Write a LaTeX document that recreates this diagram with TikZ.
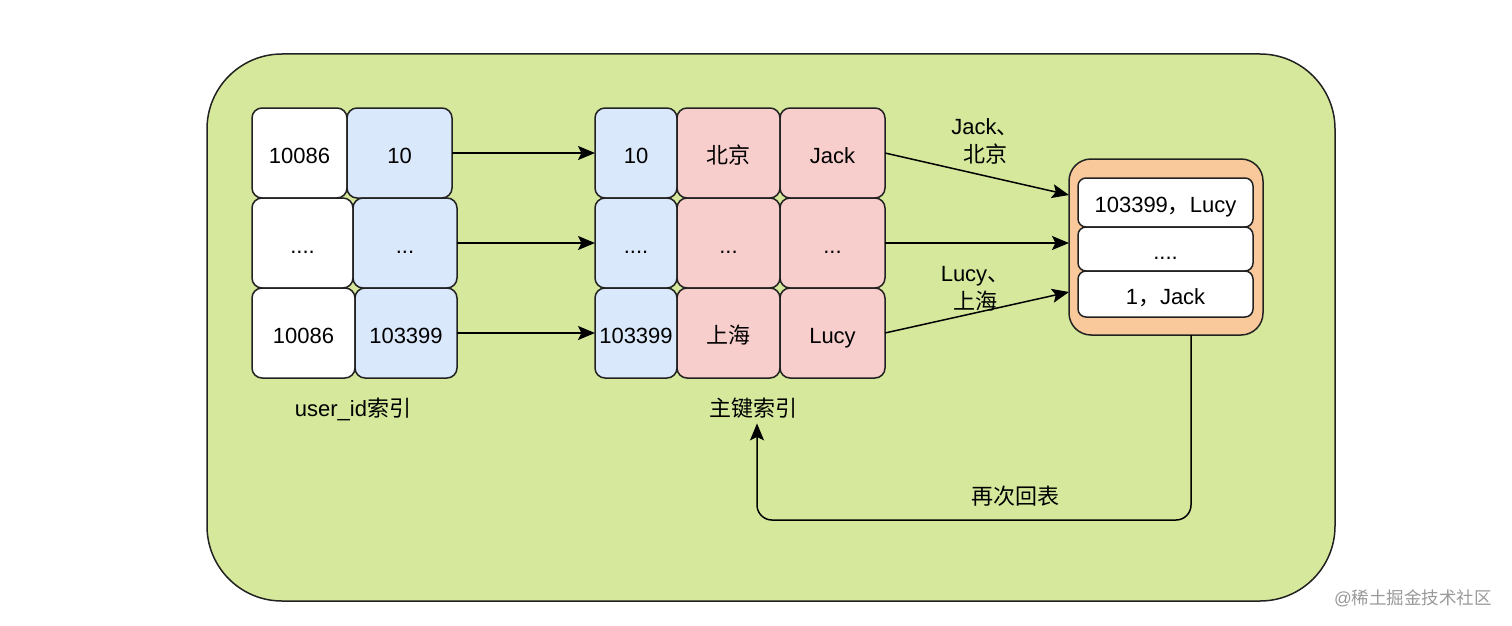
\documentclass[tikz,border=0pt]{standalone}
\usepackage{fontspec}
\setmainfont{Liberation Sans}
\newfontfamily\cjk{Noto Sans CJK SC}
\usetikzlibrary{arrows.meta,calc}
\definecolor{bggreen}{HTML}{D5E89C}
\definecolor{cellblue}{HTML}{DAE8FC}
\definecolor{cellpink}{HTML}{F8CECC}
\definecolor{cellorange}{HTML}{F9C99B}
\definecolor{edge}{HTML}{222222}
\begin{document}
\begin{tikzpicture}[x=1pt,y=-1pt,
  font=\fontsize{22}{28}\selectfont,
  cell/.style={draw=edge,line width=1.5pt,rounded corners=10pt,inner sep=0pt,outer sep=0pt,minimum height=90pt,text height=20pt,text depth=0pt},
  wcell/.style={cell,fill=white},
  bcell/.style={cell,fill=cellblue},
  pcell/.style={cell,fill=cellpink},
  rcell/.style={draw=edge,line width=1.5pt,rounded corners=8pt,fill=white,inner sep=0pt,outer sep=0pt,minimum width=175pt,text height=20pt,text depth=0pt},
  arr/.style={draw=black,line width=1.5pt,-{Stealth[length=17pt,width=14pt,inset=3.5pt]}},
  lbl/.style={inner sep=0pt,align=center}]
\useasboundingbox (0,0) rectangle (1512,626);
% background
\filldraw[fill=bggreen,draw=edge,line width=1.5pt,rounded corners=75pt] (207,54) rectangle (1335,601);
% left table
\node[wcell,minimum width=95pt]  (a1) at (299.5,153) {10086};
\node[bcell,minimum width=105pt] (b1) at (399.5,153) {10};
\node[wcell,minimum width=101pt] (a2) at (302.5,243) {....};
\node[bcell,minimum width=104pt] (b2) at (405,243) {...};
\node[wcell,minimum width=103pt] (a3) at (303.5,333) {10086};
\node[bcell,minimum width=102pt] (b3) at (406,333) {103399};
% middle table
\node[bcell,minimum width=82pt]  (c1) at (636,153) {10};
\node[pcell,minimum width=103pt] (d1) at (728.5,153) {\cjk 北京};
\node[pcell,minimum width=105pt] (e1) at (832.5,153) {Jack};
\node[bcell,minimum width=82pt]  (c2) at (636,243) {....};
\node[pcell,minimum width=103pt] (d2) at (728.5,243) {...};
\node[pcell,minimum width=105pt] (e2) at (832.5,243) {...};
\node[bcell,minimum width=82pt]  (c3) at (636,333) {103399};
\node[pcell,minimum width=103pt] (d3) at (728.5,333) {\cjk 上海};
\node[pcell,minimum width=105pt] (e3) at (832.5,333) {Lucy};
% right box
\node[draw=edge,line width=1.5pt,fill=cellorange,rounded corners=22pt,minimum width=194pt,minimum height=176pt,inner sep=0pt,outer sep=0pt] (ob) at (1166,247) {};
\node[rcell,minimum height=49pt] (r1) at (1165.5,202.5) {103399{\cjk ，}Lucy};
\node[rcell,minimum height=44pt] (r2) at (1165.5,249) {....};
\node[rcell,minimum height=46pt] (r3) at (1165.5,294) {1{\cjk ，}Jack};
% labels
\node[lbl] (lu) at (353,409) {user\_id{\cjk 索引}};
\node[lbl] (lp) at (753,408) {\cjk 主键索引};
\node[lbl] (lj) at (985,141) {Jack{\cjk 、}\\{\cjk 北京}};
\node[lbl] (ll) at (975,289) {Lucy{\cjk 、}\\{\cjk 上海}};
\node[lbl] (lr) at (1015,496) {\cjk 再次回表};
% connectors
\coordinate (t1) at (1069,195);
\coordinate (t2) at (1069,243);
\coordinate (t3) at (1069,292);
\draw[arr] (b1.east) -- (c1.west);
\draw[arr] (b2.east) -- (c2.west);
\draw[arr] (b3.east) -- (c3.west);
\draw[arr] (e1.east) -- (t1);
\draw[arr] (e2.east) -- (t2);
\draw[arr] (e3.east) -- (t3);
\draw[arr,rounded corners=15pt] ($(ob.south)+(25,0)$) -- ++(0,185) -| ($(lp.south)+(4,5)$);
% watermark
\node[lbl,text=black!40,font=\fontsize{17.5}{20}\selectfont] (wm) at (1413,598) {@{\cjk 稀土掘金技术社区}};
\end{tikzpicture}
\end{document}
